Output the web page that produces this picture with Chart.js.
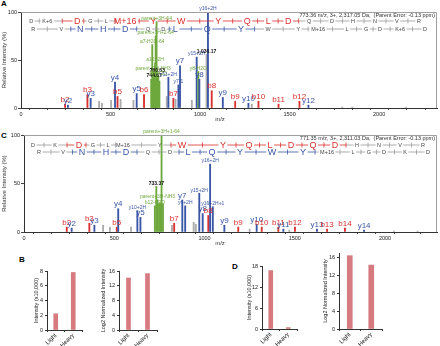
<!DOCTYPE html>
<html>
<head>
<meta charset="utf-8">
<script src="https://cdn.jsdelivr.net/npm/chart.js@4.4.1/dist/chart.umd.min.js"></script>
<style>
  body { margin: 0; background: #fff; width: 440px; height: 346px; position: relative; overflow: hidden; }
  canvas { position: absolute; }
  .panel { position: absolute; font: bold 8px "Liberation Sans", Arial, sans-serif; color: #000; }
</style>
</head>
<body>
<div class="panel" style="left:1px;top:-1px">A</div>
<div class="panel" style="left:1px;top:131px">C</div>
<div class="panel" style="left:19px;top:255px">B</div>
<div class="panel" style="left:232px;top:262px">D</div>

<canvas id="specA" width="440" height="125" style="left:0;top:0"></canvas>
<canvas id="specC" width="440" height="130" style="left:0;top:125px"></canvas>
<canvas id="barB1" width="60" height="84" style="left:30px;top:262px"></canvas>
<canvas id="barB2" width="66" height="84" style="left:100px;top:262px"></canvas>
<canvas id="barD1" width="62" height="89" style="left:244px;top:257px"></canvas>
<canvas id="barD2" width="72" height="100" style="left:318px;top:246px"></canvas>

<script>
Chart.defaults.font.family = '"Liberation Sans", Arial, sans-serif';
Chart.defaults.color = '#222';

// ---- spectrum A (heavy-labelled, oxidised peptide) ----
const aHeader = '773.36 m/z, 3+, 2,317.05 Da,  (Parent Error: -0.13 ppm)';
const aMz  = [246, 262, 371, 389, 436, 452, 503, 525, 539, 556, 628, 646, 687, 727, 733, 738, 744, 749, 752, 757, 761, 767, 773, 814, 823, 851, 863, 879, 888, 954, 981, 990, 996, 1036, 1044, 1065, 1127, 1196, 1270, 1289, 1326, 1438, 1555, 1605, 1794, 1850, 2150];
const aInt = [4, 3, 14, 10, 7, 5, 8, 27, 12, 9, 8, 15, 14, 30, 66, 38, 31, 47, 75, 90, 36, 33, 28, 12, 32, 10, 9, 24, 44, 8, 53, 38, 30, 56, 100, 18, 11, 7, 5, 4, 7, 4, 7, 3, 1, 1, 1];
const aIon = ['b','y','b','y','u','u','u','y','b','u','u','y','b','p','p','p','p','p','p','p','p','p','p','u','y','b','u','y','y','u','y','p','y','u','y','b','y','b','y','u','b','b','b','y','u','u','u'];
const aLabel = ['b2','y2','b3','y3','','','','y4','b5','','','y5','b6','','a7-H2O-64','parent+3H-NH3','744.67','a12+2H','parent+3H+2-64','parent+3H-64','760.63','b7-H2O','','','y11+2H','b7','','y7-1','y7','','y15+2H','y8-H2O','y8','1,036.17','y16+2H','b8','y9','b9','y10','','b10','b11','b12','y12','','',''];
const aSeqB    = ['D','K+6','D','G','L','M+16','Y','W','Y','Q','L','D','Q','D','H','N','V','R'];
const aSeqBMz  = [57, 147, 314, 387, 476, 582, 738, 895, 1101, 1263, 1380, 1492, 1609, 1737, 1854, 1977, 2099, 2222];
const aSeqBHit = [0, 0, 1, 0, 0, 1, 1, 1, 1, 1, 1, 1, 0, 0, 0, 0, 0, 0];
const aSeqY    = ['R','V','N','H','D','Q','D','L','Q','Y','W','Y','M+16','L','G','D','K+6','D'];
const aSeqYMz  = [69, 225, 331, 459, 582, 710, 794, 862, 1040, 1229, 1380, 1548, 1659, 1821, 1927, 2005, 2117, 2256];
const aSeqYHit = [0, 0, 1, 1, 1, 0, 0, 1, 1, 1, 0, 0, 0, 0, 0, 0, 0, 0];

// ---- spectrum C (light peptide) ----
const cHeader = '771.35 m/z, 3+, 2,311.03 Da,  (Parent Error: -0.13 ppm)';
const cMz  = [237, 264, 362, 390, 438, 476, 514, 522, 593, 628, 645, 725, 733, 740, 748, 755, 762, 770, 820, 832, 877, 893, 940, 952, 971, 990, 1021, 1031, 1046, 1110, 1187, 1250, 1289, 1317, 1409, 1437, 1470, 1501, 1623, 1679, 1778, 1884, 2050, 2180];
const cInt = [5, 4, 9, 7, 7, 5, 5, 24, 5, 22, 15, 27, 47, 33, 29, 30, 100, 29, 7, 9, 33, 27, 10, 8, 40, 19, 17, 70, 26, 7, 5, 3, 8, 5, 5, 3, 2, 5, 3, 3, 4, 2, 1, 1];
const cIon = ['b','y','b','y','u','u','b','y','u','y','y','p','p','p','p','p','p','p','u','b','y','y','u','u','y','y','b','y','y','y','b','u','y','b','b','y','u','b','y','b','b','y','u','u'];
const cLabel = ['b2','y2','b3','y3','','','b5','y4','','y10+2H','y5','b12-H2O','733.37','parent+3H-NH3','','','parent+3H+1-64','','','b7','y7','y6+2H','','','y15+2H','y8','b8','y16+2H','y16+2H+1','y9','b9','','y10','b10','b11','y11','','b12','y13','b13','b14','y14','',''];
const cSeqB    = ['D','K','D','G','L','M+16','Y','W','Y','Q','L','D','Q','D','H','N','V','R'];
const cSeqBMz  = [50, 172, 305, 382, 465, 548, 753, 875, 1102, 1247, 1363, 1479, 1601, 1723, 1845, 1967, 2083, 2211];
const cSeqBHit = [0, 0, 1, 0, 0, 0, 0, 1, 1, 1, 1, 1, 1, 1, 0, 0, 0, 0];
const cSeqY    = ['R','V','N','H','D','Q','D','L','Q','Y','W','Y','M+16','L','G','D','K','D'];
const cSeqYMz  = [83, 216, 321, 454, 565, 687, 809, 909, 1042, 1197, 1374, 1546, 1679, 1823, 1911, 1994, 2111, 2238];
const cSeqYHit = [0, 0, 1, 1, 1, 0, 0, 1, 1, 1, 1, 1, 0, 0, 0, 0, 0, 0];

// ---- quantification bars ----
const sampleCats = ['Light', 'Heavy'];
const bIntensity = [2.2, 7.8];
const bLog2      = [14.1, 15.3];
const dIntensity = [16.7, 0.4];
const dLog2      = [16.4, 14.3];

const ION_COLORS = { b: '#d9312f', y: '#3a56a6', p: '#6ea83c', u: '#acacac' };
const BAR_COLOR = '#d67a80';
const FONT = '"Liberation Sans", Arial, sans-serif';

function drawLadder(ctx, scale, res, pos, hit, y, color) {
  const fontFor = h => h ? `9px ${FONT}` : `5.5px ${FONT}`;
  const xs = pos.map(v => scale.getPixelForValue(v));
  const ws = res.map((r, i) => { ctx.font = fontFor(hit[i]); return ctx.measureText(r).width; });
  ctx.lineWidth = 0.8;
  const seg = (x0, x1, c) => {
    if (x1 <= x0) return;
    ctx.strokeStyle = c;
    ctx.beginPath(); ctx.moveTo(x0, y); ctx.lineTo(x1, y); ctx.stroke();
  };
  for (let i = 0; i < res.length - 1; i++) {
    const m = (xs[i] + xs[i + 1]) / 2;
    seg(xs[i] + ws[i] / 2 + 1.5, m, hit[i] ? color : '#9a9a9a');
    seg(m, xs[i + 1] - ws[i + 1] / 2 - 1.5, hit[i + 1] ? color : '#9a9a9a');
    ctx.strokeStyle = (hit[i] || hit[i + 1]) ? color : '#9a9a9a';
    ctx.beginPath(); ctx.moveTo(m, y - 2.5); ctx.lineTo(m, y + 2.5); ctx.stroke();
  }
  ctx.textAlign = 'center';
  ctx.textBaseline = 'middle';
  res.forEach((r, i) => {
    ctx.font = fontFor(hit[i]);
    ctx.fillStyle = hit[i] ? color : '#444';
    ctx.fillText(r, xs[i], y + 0.5);
  });
}

// ladder, peak annotations, frame and axis titles for a spectrum
const spectrumDecor = s => ({
  id: 'spectrumDecor',
  afterDatasetsDraw(chart) {
    const ctx = chart.ctx, area = chart.chartArea, xs = chart.scales.x;
    ctx.save();
    ctx.strokeStyle = '#a0a0a0';
    ctx.lineWidth = 1;
    ctx.beginPath();
    ctx.moveTo(area.left, area.top + 0.5); ctx.lineTo(area.right - 0.5, area.top + 0.5);
    ctx.lineTo(area.right - 0.5, area.bottom);
    ctx.stroke();

    drawLadder(ctx, xs, s.seqB, s.seqBMz, s.seqBHit, area.top + s.rowB, ION_COLORS.b);
    drawLadder(ctx, xs, s.seqY, s.seqYMz, s.seqYHit, area.top + s.rowY, ION_COLORS.y);

    const meta = chart.getDatasetMeta(0);
    ctx.textAlign = 'center';
    ctx.textBaseline = 'bottom';
    s.label.forEach((t, i) => {
      if (!t) return;
      const el = meta.data[i];
      if (/^[by]\d+$/.test(t)) {
        ctx.font = `8px ${FONT}`;
        ctx.fillStyle = ION_COLORS[s.ion[i]];
      } else if (/^\d/.test(t)) {
        ctx.font = `bold 5px ${FONT}`;
        ctx.fillStyle = '#111';
      } else {
        ctx.font = `5px ${FONT}`;
        ctx.fillStyle = ION_COLORS[s.ion[i]];
      }
      ctx.fillText(t, el.x, el.y - 0.5);
    });

    ctx.font = `5.5px ${FONT}`;
    ctx.fillStyle = '#333';
    ctx.textAlign = 'right';
    ctx.textBaseline = 'middle';
    ctx.fillText(s.header, area.right - 2, area.top + 3.5);

    // m/z caption sits a little left of the axis centre
    ctx.textAlign = 'center';
    ctx.font = `6px ${FONT}`;
    ctx.fillText('m/z', 220, area.bottom + 11.5);
    ctx.translate(4.5, (area.top + area.bottom) / 2);
    ctx.rotate(-Math.PI / 2);
    ctx.fillText('Relative Intensity (%)', 0, 0);
    ctx.restore();
  }
});

function makeSpectrum(id, s) {
  new Chart(document.getElementById(id), {
    type: 'bar',
    data: {
      datasets: [{
        data: s.mz.map((m, i) => ({ x: m, y: s.inten[i] })),
        backgroundColor: s.ion.map(t => ION_COLORS[t]),
        barThickness: 1.2,
        borderWidth: 0
      }]
    },
    options: {
      responsive: false,
      animation: false,
      events: [],
      layout: { padding: { top: s.padTop, right: 3, left: 0, bottom: 0 } },
      plugins: { legend: { display: false }, tooltip: { enabled: false } },
      scales: {
        x: {
          type: 'linear', min: 0, max: s.xMax, offset: false,
          grid: { drawOnChartArea: false, tickLength: 2, color: '#444' },
          border: { color: '#333', width: 1 },
          ticks: {
            stepSize: 100, autoSkip: false, maxRotation: 0, padding: 1,
            font: { size: 5.5 }, color: '#222',
            callback: v => v % 500 === 0 ? String(v) : ''
          },
          afterFit: sc => { sc.height = s.xAxisHeight; }
        },
        y: {
          min: 0, max: 100,
          grid: { drawOnChartArea: false, tickLength: 3, color: '#444' },
          border: { color: '#333', width: 1 },
          ticks: { stepSize: 50, padding: 1, font: { size: 5.5 }, color: '#222' },
          afterFit: sc => { sc.width = s.yAxisWidth; }
        }
      }
    },
    plugins: [spectrumDecor(s)]
  });
}

const yTitle = (text, x) => ({
  id: 'yTitle',
  afterDraw(chart) {
    const ctx = chart.ctx, area = chart.chartArea;
    ctx.save();
    ctx.font = `5.5px ${FONT}`;
    ctx.fillStyle = '#222';
    ctx.textAlign = 'center';
    ctx.textBaseline = 'middle';
    ctx.translate(x, (area.top + area.bottom) / 2);
    ctx.rotate(-Math.PI / 2);
    ctx.fillText(text, 0, 0);
    ctx.restore();
  }
});

function makeBars(id, values, max, step, title, box) {
  new Chart(document.getElementById(id), {
    type: 'bar',
    data: { labels: sampleCats, datasets: [{ data: values, backgroundColor: BAR_COLOR, barThickness: box.bar }] },
    options: {
      responsive: false,
      animation: false,
      events: [],
      layout: { padding: { top: box.top, right: box.right, left: 0, bottom: 0 } },
      plugins: { legend: { display: false }, tooltip: { enabled: false } },
      scales: {
        x: {
          grid: { drawOnChartArea: false, tickLength: 2, color: '#333' },
          border: { color: '#333', width: 1 },
          ticks: { font: { size: 6 }, color: '#222', minRotation: 45, maxRotation: 45, padding: 0 },
          afterFit: sc => { sc.height = box.xh; }
        },
        y: {
          min: 0, max: max,
          grid: { drawOnChartArea: false, tickLength: 2, color: '#333' },
          border: { color: '#333', width: 1 },
          ticks: { stepSize: step, includeBounds: false, font: { size: 5.5 }, color: '#222', padding: 2 },
          afterFit: sc => { sc.width = box.yw; }
        }
      }
    },
    plugins: [yTitle(title, box.titleX)]
  });
}

makeSpectrum('specA', {
  mz: aMz, inten: aInt, ion: aIon, label: aLabel, header: aHeader,
  seqB: aSeqB, seqBMz: aSeqBMz, seqBHit: aSeqBHit,
  seqY: aSeqY, seqYMz: aSeqYMz, seqYHit: aSeqYHit,
  xMax: 2323, padTop: 12, xAxisHeight: 17, yAxisWidth: 21, rowB: 9, rowY: 17
});
makeSpectrum('specC', {
  mz: cMz, inten: cInt, ion: cIon, label: cLabel, header: cHeader,
  seqB: cSeqB, seqBMz: cSeqBMz, seqBHit: cSeqBHit,
  seqY: cSeqY, seqYMz: cSeqYMz, seqYHit: cSeqYHit,
  xMax: 2288, padTop: 10, xAxisHeight: 23, yAxisWidth: 24, rowB: 10, rowY: 17
});

makeBars('barB1', bIntensity, 8, 2, 'Intensity (x10,000)', { yw: 17, top: 9, right: 8, xh: 16, bar: 4, titleX: 6 });
makeBars('barB2', bLog2, 16, 4, 'Log2 Normalized Intensity', { yw: 19, top: 9, right: 9, xh: 16, bar: 4, titleX: 3.5 });
makeBars('barD1', dIntensity, 18, 6, 'Intensity (x10,000)', { yw: 18, top: 9, right: 9, xh: 17, bar: 4, titleX: 5 });
makeBars('barD2', dLog2, 17, 4, 'Log2 Normalized Intensity', { yw: 21, top: 7, right: 8, xh: 17, bar: 5, titleX: 7 });
</script>
</body>
</html>
